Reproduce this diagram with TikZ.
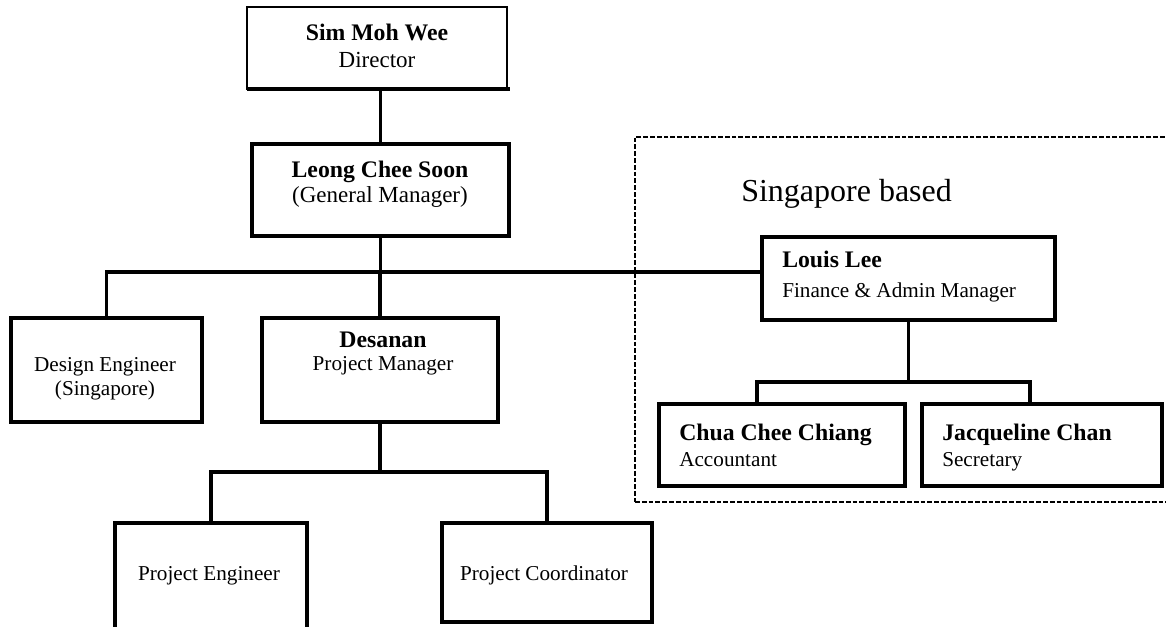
\documentclass[tikz,border=0pt]{standalone}
\usepackage{fontspec}
\setmainfont{Liberation Serif}
\begin{document}
\begin{tikzpicture}[x=0.75pt,y=-0.75pt,
  box/.style={draw, line width=2.4pt, inner sep=0pt, outer sep=0pt},
  thinbox/.style={draw, line width=0.8pt, inner sep=0pt, outer sep=0pt},
  region/.style={draw, line width=1.1pt, dash pattern=on 3.6pt off 1.5pt, inner sep=0pt, outer sep=0pt},
  conn/.style={line width=2.4pt},
  nm/.style={font=\fontsize{17.8}{20}\selectfont\bfseries, anchor=base, inner sep=0pt},
  rl/.style={font=\fontsize{15.9}{18}\selectfont, anchor=base, inner sep=0pt},
  rlbig/.style={font=\fontsize{17.25}{20}\selectfont, anchor=base, inner sep=0pt},
  big/.style={font=\fontsize{24}{28}\selectfont, anchor=base west, inner sep=0pt}
]
\useasboundingbox (0,0) rectangle (1166,626);
\clip (0,0) rectangle (1166,626);
\fill[white] (0,0) rectangle (1166,626);

% boxes
\node[thinbox, minimum width=195pt, minimum height=61.5pt] (dir) at (377,48) {};
\node[box, minimum width=192.75pt, minimum height=69pt] (gm) at (380.5,190) {};
\node[box, minimum width=143.25pt, minimum height=78pt] (des) at (106.5,370) {};
\node[box, minimum width=177pt, minimum height=78pt] (pm) at (380,370) {};
\node[box, minimum width=144pt, minimum height=95.25pt] (pe) at (211,586.5) {};
\node[box, minimum width=157.5pt, minimum height=74.25pt] (pc) at (547,572.5) {};
\node[region, minimum width=416.25pt, minimum height=273.75pt] (sg) at (912.5,319.5) {};
\node[box, minimum width=219.75pt, minimum height=62.25pt] (fin) at (908.5,278.5) {};
\node[box, minimum width=184.5pt, minimum height=61.5pt] (acc) at (782,445) {};
\node[box, minimum width=180pt, minimum height=61.5pt] (sec) at (1042,445) {};

% thick bottom edge of the top box
\draw[conn] (dir.south west) -- ([xshift=2.25pt]dir.south east);

% connectors
\coordinate (bus) at (108,272);
\coordinate (pmbus) at (0,472);
\coordinate (finbus) at (0,382);
\draw[conn] (gm.north) -- (gm.north |- dir.south);
\draw[conn] (gm.south) -- (gm.south |- bus);
\draw[conn] (des.north) -- (des.north |- bus) -- (fin.west |- bus);
\draw[conn] (pm.north) -- (pm.north |- bus);
\draw[conn] (pm.south) -- (pm.south |- pmbus);
\draw[conn] (pe.north) -- (pe.north |- pmbus) -- (pc.north |- pmbus) -- (pc.north);
\draw[conn] (fin.south) -- (fin.south |- finbus);
\coordinate (accin) at ([xshift=73.5pt]acc.north west);
\coordinate (secin) at ([xshift=81pt]sec.north west);
\draw[conn] (accin) -- (accin |- finbus) -- (secin |- finbus) -- (secin);

% texts
\node[nm] (tdir1) at (377,40) {Sim Moh Wee};
\node[rlbig] (tdir2) at (377,67) {Director};
\node[nm] (tgm1) at (380,177) {Leong Chee Soon};
\node[rlbig] (tgm2) at (380,202) {(General Manager)};
\node[rl] (tdes1) at (105,371) {Design Engineer};
\node[rl] (tdes2) at (105,395) {(Singapore)};
\node[nm] (tpm1) at (383,347) {Desanan};
\node[rl] (tpm2) at (383,370) {Project Manager};
\node[rl] (tpe) at (209,580) {Project Engineer};
\node[rl] (tpc) at (544,580) {Project Coordinator};
\node[big] (tsg) at (741,201) {Singapore based};
\node[nm, anchor=base west] (tfin1) at (782,267) {Louis Lee};
\node[rl, anchor=base west] (tfin2) at (782,297) {Finance \& Admin Manager};
\node[nm, anchor=base west] (tacc1) at (679,440) {Chua Chee Chiang};
\node[rl, anchor=base west] (tacc2) at (679,466) {Accountant};
\node[nm, anchor=base west] (tsec1) at (942,440) {Jacqueline Chan};
\node[rl, anchor=base west] (tsec2) at (942,466) {Secretary};
\end{tikzpicture}
\end{document}
